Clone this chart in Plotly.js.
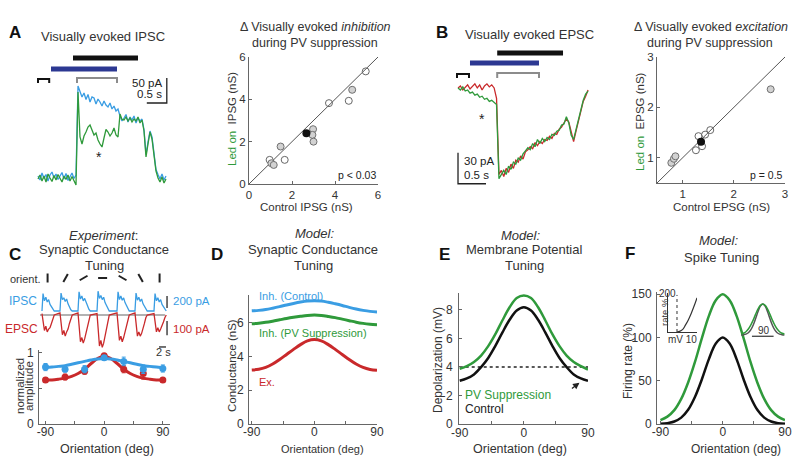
<!DOCTYPE html>
<html><head><meta charset="utf-8">
<script src="https://cdn.plot.ly/plotly-3.0.1.min.js"></script>
<style>html,body{margin:0;padding:0;background:#fff}#g{width:800px;height:466px}</style>
</head><body><div id="g"></div>
<script>
// ---------------- DATA ----------------
// Panel A: visually evoked IPSC (pA, baseline 0), sampled every 0.05 s
const aDt = 0.05;
const aCtrl = [2,-6,8,-3,5,-8,4,10,-2,6,-5,3,9,-4,7,-7,2,8,-3,4,
  182,172,160,168,155,165,150,160,158,146,156,150,142,152,144,140,148,136,142,132,136,
  122,112,118,125,110,120,114,122,108,118,112,116,
  95,45,70,92,80,45,15,5,-4,6,-6,2];
const aLed = [-4,4,-8,2,-10,6,-2,-9,3,-6,5,-3,-10,2,-5,4,-8,1,-6,-16,
  170,80,66,82,90,100,104,92,84,88,74,66,60,78,95,90,82,88,98,84,80,
  126,115,114,120,112,118,110,116,112,120,108,114,
  92,40,66,90,76,40,12,-2,-10,0,-12,-4];
const aBlackBar = [0.875, 2.5];
const aBlueBar  = [0.325, 1.975];
const aGrayWin  = [0.975, 1.975];
const aBaseWin  = [0, 0.28];
const aScalePA = 50, aScaleS = 0.5;

// Panel A scatter (nS)
const aOpenX = [0.96,1.66,3.72,4.64,5.43], aOpenY = [1.14,1.14,3.82,3.93,5.32];
const aHatchX = [1.04,1.15,1.47,2.98,2.95,3.0,4.8], aHatchY = [0.98,0.9,1.77,2.59,2.32,2.0,4.45];
const aMeanX = [2.67], aMeanY = [2.4];
const aUnity = [0, 6];

// Panel B: visually evoked EPSC (pA), sampled every 0.043 s
const bDt = 0.043;
const bCtrl = [0,2,-2,1,3,-1,2,4,0,3,-2,2,4,1,3,0,
  -10,-84,-80,-86,-78,-82,-74,-78,-70,-72,-66,-69,-62,-60,-57,-59,-53,-56,-52,-54,
  -50,-51,-47,-49,-44,-45,-40,-38,-34,-30,-33,-44,-52,-42,-32,-22,-13,-8,-2];
const bLed = [0,-2,1,-3,-2,-5,-4,-7,-6,-9,-8,-11,-10,-13,-12,-14,
  -16,-88,-84,-80,-84,-76,-79,-72,-74,-68,-70,-64,-61,-58,-60,-54,-57,-50,-54,-49,
  -52,-48,-50,-45,-46,-42,-41,-36,-35,-28,-34,-46,-50,-40,-30,-20,-12,-6,-3];
const bBlackBar = [0.70, 1.875];
const bBlueBar  = [0.214, 1.446];
const bGrayWin  = [0.70, 1.446];
const bBaseWin  = [-0.018, 0.196];
const bScalePA = 30, bScaleS = 0.5;

// Panel B scatter (nS)
const bOpenX = [1.31,1.26,1.38,1.44,1.54], bOpenY = [1.43,1.15,1.23,1.46,1.55];
const bHatchX = [2.72,0.78,0.83,0.86], bHatchY = [2.36,0.9,0.98,1.03];
const bMeanX = [1.36], bMeanY = [1.32];
const bUnity = [0.5, 3];

// Panel C: example sweeps (s, pA)
const orientDeg = [-90,-60,-30,0,30,60,90];
const sweepStart = [0.57,5.71,10.86,16.29,22.0,27.14,32.57];
const sweepOffsets = [0,0.3,0.7,1.1,1.5,1.9,2.3,2.7,3.1,3.5];
const ipscSweeps = [
  [0,290,170,230,150,190,110,80,30,0],
  [0,300,190,220,160,200,120,70,20,0],
  [0,320,200,250,170,210,130,90,30,0],
  [0,330,210,260,190,230,140,100,40,0],
  [0,320,190,250,180,220,140,90,30,0],
  [0,300,180,230,160,200,120,80,30,0],
  [0,290,170,220,150,190,110,70,20,0]];
const epscSweeps = [
  [10,-40,-110,-80,-120,-100,-90,-60,-20,0],
  [15,-60,-140,-110,-150,-120,-100,-60,-20,0],
  [15,-90,-190,-160,-200,-170,-130,-80,-30,0],
  [10,-100,-220,-180,-230,-200,-150,-90,-30,0],
  [15,-90,-180,-150,-190,-160,-120,-70,-20,0],
  [15,-70,-150,-120,-150,-130,-100,-60,-20,0],
  [10,-50,-120,-90,-120,-100,-80,-50,-20,0]];
const cBaseline = [0, 35.7];

// Panel C tuning (normalized)
const ipscNorm = [0.80,0.77,0.77,0.93,0.88,0.77,0.78];
const ipscErr  = [0.05,0.04,0.05,0.03,0.06,0.06,0.05];
const epscNorm = [0.62,0.66,0.74,0.96,0.77,0.71,0.62];
const epscErr  = [0.03,0.04,0.04,0.02,0.05,0.08,0.03];
const orientFine = [-90,-80,-70,-60,-50,-40,-30,-20,-10,0,10,20,30,40,50,60,70,80,90];
const ipscFit = [0.80,0.80,0.81,0.82,0.84,0.86,0.88,0.90,0.915,0.92,0.915,0.90,0.88,0.86,0.84,0.82,0.81,0.80,0.79];
const epscFit = [0.62,0.62,0.63,0.645,0.67,0.71,0.77,0.85,0.92,0.955,0.92,0.85,0.77,0.71,0.67,0.645,0.63,0.62,0.62];

// Panel D: model conductances (nS)
const dInhCtrl = [6.70,6.73,6.78,6.86,6.95,7.05,7.14,7.22,7.28,7.30,7.28,7.21,7.12,7.02,6.91,6.81,6.73,6.67,6.64];
const dInhPV   = [5.94,5.97,6.02,6.09,6.17,6.25,6.32,6.38,6.43,6.45,6.43,6.37,6.30,6.21,6.12,6.03,5.96,5.91,5.88];
const dExc     = [3.20,3.24,3.35,3.55,3.82,4.12,4.42,4.70,4.92,5.00,4.92,4.70,4.42,4.12,3.82,3.55,3.35,3.23,3.18];

// Panel E: membrane potential (mV)
const eCtrl = [3.03,3.20,3.48,3.99,4.63,5.48,6.43,7.31,7.96,8.19,7.96,7.31,6.43,5.48,4.63,3.99,3.48,3.20,3.03];
const ePV   = [3.87,4.06,4.35,4.80,5.46,6.30,7.28,8.19,8.84,9.02,8.84,8.19,7.28,6.30,5.46,4.80,4.35,4.06,3.82];
const eThreshold = 4;

// Panel F: firing rate (%)
const fCtrl = [0.3,1.0,2.9,7.4,16.4,31.5,52,75,93,100,93,75,52,31.5,16.4,7.4,2.9,1.0,0.3];
const fPV   = [4.5,8.5,16,29,48,72,99.5,125,143,150,143,125,99.5,72,48,29,16,8.5,4.5];
const insetMv   = [3.1,4,5,6,7,8,9,10];
const insetRate = [0,3,12,35,62,95,133,175];
const insetThreshMv = 3.1;
const insetBarDeg = [-45, 45];

// ---------------- HELPERS ----------------
const W = 800, H = 466;
const FONT = 'Liberation Sans, Arial, Helvetica, sans-serif';
const BLUE = '#3a9de3', GREEN = '#2f9a3b', RED = '#c9292b', NAVY = '#2c3892', GRAY = '#8c8c8c', TXT = '#333', AX = '#666';
const dX = (a, b) => [a / W, b / W];
const dY = (top, bot) => [1 - bot / H, 1 - top / H];
const px = x => x / W, py = y => 1 - y / H;

function hid(domain, range, anchor) { return {visible: false, domain, range, anchor, fixedrange: true}; }
function vis(domain, range, anchor, tickvals, ticktext, size, standoff) {
  return {domain, range, anchor, fixedrange: true, showgrid: false, zeroline: false,
    showline: true, linecolor: AX, linewidth: 1, ticks: 'inside', ticklen: 3, tickcolor: AX,
    tickvals, ticktext: ticktext || tickvals.map(String), showticklabels: true,
    ticklabelstandoff: standoff || 0,
    tickfont: {family: FONT, size: size || 12, color: TXT}};
}

const traces = [];
function L(x, y, xa, ya, color, width, extra) {
  traces.push(Object.assign({type: 'scatter', mode: 'lines', x, y, xaxis: xa, yaxis: ya,
    line: {color, width}, hoverinfo: 'skip'}, extra || {}));
}
function S(x, y, xa, ya, color, width) {
  traces.push({type: 'scatter', mode: 'lines', x, y, xaxis: xa, yaxis: ya,
    line: {color, width, shape: 'spline', smoothing: 1}, hoverinfo: 'skip'});
}
function M(x, y, xa, ya, marker, extra) {
  traces.push(Object.assign({type: 'scatter', mode: 'markers', x, y, xaxis: xa, yaxis: ya,
    marker, cliponaxis: false, hoverinfo: 'skip'}, extra || {}));
}

// ---------------- TRACES ----------------
// A trace
traces.push({type: 'scatter', mode: 'lines', x0: 0, dx: aDt, y: aCtrl, xaxis: 'x', yaxis: 'y', line: {color: BLUE, width: 1.3}});
traces.push({type: 'scatter', mode: 'lines', x0: 0, dx: aDt, y: aLed, xaxis: 'x', yaxis: 'y', line: {color: GREEN, width: 1.3}});
L(aBlackBar, [238, 238], 'x', 'y', '#111', 5);
L(aBlueBar, [216, 216], 'x', 'y', NAVY, 5);
L([aGrayWin[0], aGrayWin[0], aGrayWin[1], aGrayWin[1]], [188, 198, 198, 188], 'x', 'y', GRAY, 2);
L([aBaseWin[0], aBaseWin[0], aBaseWin[1], aBaseWin[1]], [188, 196, 196, 188], 'x', 'y', '#111', 2);
L([3.22, 3.22, 3.22 - aScaleS], [148 + aScalePA, 148, 148], 'x', 'y', '#222', 1.3);

// A scatter
L(aUnity, aUnity, 'x2', 'y2', '#555', 1);
M(aOpenX, aOpenY, 'x2', 'y2', {symbol: 'circle-open', size: 7, color: '#666', line: {width: 1}});
M(aHatchX, aHatchY, 'x2', 'y2', {symbol: 'circle', size: 7, color: '#d2d2d2', line: {width: 1, color: '#707070'}});
M(aMeanX, aMeanY, 'x2', 'y2', {symbol: 'circle', size: 8, color: '#111'});

// B trace
traces.push({type: 'scatter', mode: 'lines', x0: 0, dx: bDt, y: bCtrl, xaxis: 'x3', yaxis: 'y3', line: {color: RED, width: 1.3}});
traces.push({type: 'scatter', mode: 'lines', x0: 0, dx: bDt, y: bLed, xaxis: 'x3', yaxis: 'y3', line: {color: GREEN, width: 1.3}});
L(bBlackBar, [34, 34], 'x3', 'y3', '#111', 5);
L(bBlueBar, [24.3, 24.3], 'x3', 'y3', NAVY, 5);
L([bGrayWin[0], bGrayWin[0], bGrayWin[1], bGrayWin[1]], [9.7, 14.6, 14.6, 9.7], 'x3', 'y3', GRAY, 2);
L([bBaseWin[0], bBaseWin[0], bBaseWin[1], bBaseWin[1]], [9.7, 13.6, 13.6, 9.7], 'x3', 'y3', '#111', 2);
L([0, 0, bScaleS], [-63, -63 - bScalePA, -63 - bScalePA], 'x3', 'y3', '#222', 1.3);

// B scatter
L(bUnity, bUnity, 'x4', 'y4', '#555', 1);
M(bOpenX, bOpenY, 'x4', 'y4', {symbol: 'circle-open', size: 7, color: '#666', line: {width: 1}});
M(bHatchX, bHatchY, 'x4', 'y4', {symbol: 'circle', size: 7, color: '#d2d2d2', line: {width: 1, color: '#707070'}});
M(bMeanX, bMeanY, 'x4', 'y4', {symbol: 'circle', size: 8, color: '#111'});

// C sweeps
const cX = [], cB = [], cR = [];
sweepStart.forEach((s, i) => sweepOffsets.forEach((o, j) => { cX.push(s + o); cB.push(ipscSweeps[i][j]); cR.push(epscSweeps[i][j]); }));
L(cBaseline, [0, 0], 'x5', 'y6', '#999', 1.5);
L(cX, cB, 'x5', 'y5', BLUE, 1.3);
L(cX, cR, 'x5', 'y6', RED, 1.3);
L([36.3, 36.3], [50, 250], 'x5', 'y5', '#444', 1.5);
L([36.3, 36.3], [-43, -143], 'x5', 'y6', '#444', 1.5);
L([34, 36], [-227, -227], 'x5', 'y6', '#444', 1.5);

// C tuning
S(orientFine, epscFit, 'x7', 'y7', RED, 3);
S(orientFine, ipscFit, 'x7', 'y7', BLUE, 3);
M(orientDeg, epscNorm, 'x7', 'y7', {size: 7, color: RED}, {error_y: {type: 'data', array: epscErr, color: RED, thickness: 1, width: 2}});
M(orientDeg, ipscNorm, 'x7', 'y7', {size: 7, color: BLUE}, {error_y: {type: 'data', array: ipscErr, color: BLUE, thickness: 1, width: 2}});

// D
S(orientFine, dInhCtrl, 'x8', 'y8', BLUE, 3);
S(orientFine, dInhPV, 'x8', 'y8', GREEN, 3);
S(orientFine, dExc, 'x8', 'y8', RED, 3);

// E
L([-90, 90], [eThreshold, eThreshold], 'x9', 'y9', '#222', 1.5, {line: {color: '#222', width: 1.5, dash: 'dot'}});
S(orientFine, ePV, 'x9', 'y9', GREEN, 2.5);
S(orientFine, eCtrl, 'x9', 'y9', '#111', 2.5);

// F
S(orientFine, fPV, 'x10', 'y10', GREEN, 2.5);
S(orientFine, fCtrl, 'x10', 'y10', '#111', 2.5);
S(insetMv, insetRate, 'x11', 'y11', '#333', 1.2);
S(orientFine, fCtrl.map(v => v / 100), 'x12', 'y12', '#555', 1.5);
S(orientFine, fPV.map(v => v / 150), 'x12', 'y12', GREEN, 1.5);
L(insetBarDeg, [-0.04, -0.04], 'x12', 'y12', '#333', 1.2);

// ---------------- ANNOTATIONS ----------------
const ann = [];
function T(text, x, y, size, o) {
  o = o || {};
  ann.push({text, x: px(x), y: py(y), xref: 'paper', yref: 'paper', showarrow: false,
    xanchor: o.xa || 'center', yanchor: 'middle', textangle: o.angle || 0,
    font: {family: FONT, size: size, color: o.color || TXT}});
}
const B = s => '<b>' + s + '</b>';
T(B('A'), 15, 32, 17, {color: '#111'});
T(B('B'), 442, 32, 17, {color: '#111'});
T(B('C'), 15, 255, 17, {color: '#111'});
T(B('D'), 217, 255, 17, {color: '#111'});
T(B('E'), 444, 255, 17, {color: '#111'});
T(B('F'), 630, 253, 17, {color: '#111'});

T('Visually evoked IPSC', 103, 36, 13);
T('Visually evoked EPSC', 529, 35, 13);
T('Δ Visually evoked <i>inhibition</i>', 315, 27, 12.5);
T('during PV suppression', 315, 43, 12.5);
T('Δ Visually evoked <i>excitation</i>', 711, 27, 12.5);
T('during PV suppression', 710, 43, 12.5);
T('Control IPSG (nS)', 306, 207, 11.5);
T('<span style="color:' + GREEN + '">Led on</span>  IPSG (nS)', 232, 119, 11.5, {angle: -90});
T('Control EPSG (nS)', 721, 207, 11.5);
T('<span style="color:' + GREEN + '">Led on</span>  EPSG (nS)', 640, 122, 11.5, {angle: -90});
T('p &lt; 0.03', 378, 175, 10.5, {xa: 'right', color: '#222'});
T('p = 0.5', 785, 175, 10.5, {xa: 'right', color: '#222'});
T('*', 99, 157, 14, {color: '#222'});
T('*', 482, 119, 14, {color: '#222'});
T('50 pA', 164, 83, 11.5, {xa: 'right', color: '#222'});
T('0.5 s', 164, 94, 11.5, {xa: 'right', color: '#222'});
T('30 pA', 462, 161, 11.5, {xa: 'left', color: '#222'});
T('0.5 s', 462, 175, 11.5, {xa: 'left', color: '#222'});

T('<i>Experiment</i>:', 103, 235, 13);
T('Synaptic Conductance', 104, 250, 13);
T('Tuning', 104, 265, 13);
T('orient.', 8, 279, 11, {xa: 'left'});
T('IPSC', 23, 301, 12, {color: BLUE});
T('EPSC', 21, 329, 12, {color: RED});
T('200 pA', 171, 301, 11.5, {xa: 'left', color: BLUE});
T('100 pA', 171, 329, 11.5, {xa: 'left', color: RED});
T('2 s', 163, 352, 11);
T('normalized', 20, 386, 11.5, {angle: -90});
T('amplitude', 29, 386, 11.5, {angle: -90});
T('Orientation (deg)', 107, 449, 12.5);

T('<i>Model:</i>', 314, 233, 13);
T('Synaptic Conductance', 313, 250, 13);
T('Tuning', 313, 265, 13);
T('Conductance (nS)', 232, 365, 11.5, {angle: -90});
T('Orientation (deg)', 322, 449, 11);
T('Inh. (Control)', 257, 296, 11, {xa: 'left', color: BLUE});
T('Inh. (PV Suppression)', 257, 333, 11, {xa: 'left', color: GREEN});
T('Ex.', 257, 382, 11, {xa: 'left', color: RED});

T('<i>Model:</i>', 520, 235, 13);
T('Membrane Potential', 524, 250, 13);
T('Tuning', 524, 265, 13);
T('Depolarization (mV)', 438, 360, 12, {angle: -90});
T('Orientation (deg)', 520, 449, 12.5);
T('PV Suppression', 463, 395, 12, {xa: 'left', color: GREEN});
T('Control', 463, 409, 12, {xa: 'left', color: '#222'});
ann.push({x: 78, y: 2.9, xref: 'x9', yref: 'y9', ax: -9, ay: 7, showarrow: true, arrowhead: 2,
  arrowsize: 1, arrowwidth: 1.3, arrowcolor: '#222', text: ''});

T('<i>Model:</i>', 718, 240, 13);
T('Spike Tuning', 721, 257, 13);
T('Firing rate (%)', 628, 361, 12, {angle: -90});
T('Orientation (deg)', 736, 449, 12);
T('200', 667, 293, 10);
T('rate %', 664, 312, 9.5, {angle: -90});
T('mV 10', 682, 339, 10);
T('90', 764, 330, 10);

// ---------------- SHAPES ----------------
const shapes = [];
orientDeg.forEach((th, i) => {
  const phi = -th * Math.PI / 180, Lh = 4.5;
  shapes.push({type: 'line', xref: 'x5', yref: 'paper', xsizemode: 'pixel', ysizemode: 'pixel',
    xanchor: sweepStart[i] + 1.6, yanchor: py(278),
    x0: -Lh * Math.cos(phi), x1: Lh * Math.cos(phi), y0: -Lh * Math.sin(phi), y1: Lh * Math.sin(phi),
    line: {color: '#222', width: 2}});
});
shapes.push({type: 'line', xref: 'x11', yref: 'y11', x0: insetThreshMv, x1: insetThreshMv, y0: 0, y1: 190,
  line: {color: '#333', width: 1, dash: 'dot'}});

// ---------------- LAYOUT ----------------
const XT = [-90, -45, 0, 45, 90], XTT = ['-90', '', '0', '', '90'];
const layout = {
  width: W, height: H, margin: {l: 0, r: 0, t: 0, b: 0, pad: 0},
  paper_bgcolor: '#fff', plot_bgcolor: 'rgba(0,0,0,0)', showlegend: false,
  font: {family: FONT, color: TXT},
  xaxis: hid(dX(30, 175), [-0.2, 3.425], 'y'),
  yaxis: hid(dY(50, 190), [-26, 254], 'x'),
  xaxis2: vis(dX(249, 378), [0, 6], 'y2', [0, 2, 4, 6], null, 11.5),
  yaxis2: vis(dY(57, 184), [0, 6], 'x2', [0, 2, 4, 6], null, 11.5),
  xaxis3: hid(dX(450, 595), [-0.143, 2.446], 'y3'),
  yaxis3: hid(dY(45, 192), [-101, 41.7], 'x3'),
  xaxis4: vis(dX(657, 785), [0.5, 3], 'y4', [1, 2, 3], null, 11.5),
  yaxis4: vis(dY(57, 183), [0.5, 3], 'x4', [1, 2, 3], null, 11.5),
  xaxis5: hid(dX(36, 176), [-1.14, 38.86], 'y5'),
  yaxis5: hid(dY(286, 315), [-66.8, 417.5], 'x5'),
  yaxis6: hid(dY(309, 352), [-262.7, 42.6], 'x5'),
  xaxis7: vis(dX(39, 170), [-100, 101], 'y7', XT, XTT, 12, -3),
  yaxis7: vis(dY(350, 424), [0, 1.04], 'x7', [0, 0.5, 1], ['0', '', '1'], 12, 2),
  xaxis8: vis(dX(249, 377), [-94, 90], 'y8', XT, XTT, 12, -3),
  yaxis8: vis(dY(295, 424), [0, 7.64], 'x8', [0, 2, 4, 6], null, 12, 2),
  xaxis9: vis(dX(459, 588), [-91, 90], 'y9', XT, XTT, 12, -2),
  yaxis9: vis(dY(293, 424), [0, 9.19], 'x9', [0, 2, 4, 6, 8], null, 12, 3),
  xaxis10: vis(dX(657, 785), [-95, 90], 'y10', XT, XTT, 12, -3),
  yaxis10: vis(dY(292, 424), [0, 152.6], 'x10', [0, 50, 100, 150], null, 12, 2),
  xaxis11: Object.assign(vis(dX(668, 697), [0, 10], 'y11', [], [], 9), {ticks: '', showticklabels: false, linecolor: '#333'}),
  yaxis11: Object.assign(vis(dY(293, 332), [0, 200], 'x11', [], [], 9), {ticks: '', showticklabels: false, linecolor: '#333'}),
  xaxis12: hid(dX(738, 788), [-103, 105], 'y12'),
  yaxis12: hid(dY(298, 340), [-0.16, 1.19], 'x12'),
  annotations: ann,
  shapes: shapes
};

Plotly.newPlot('g', traces, layout, {staticPlot: true, displayModeBar: false});
</script></body></html>
